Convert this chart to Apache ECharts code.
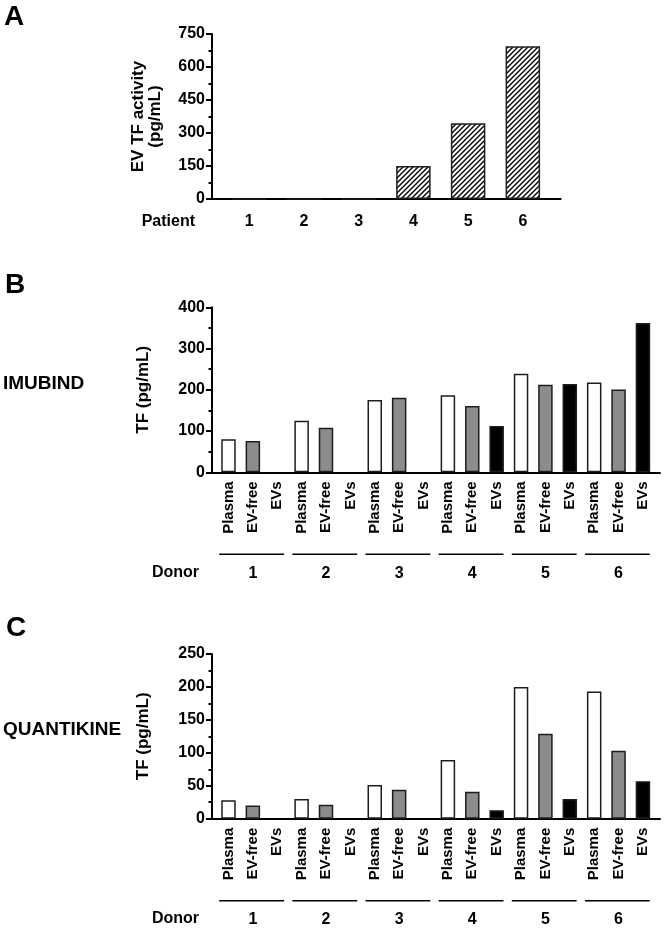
<!DOCTYPE html>
<html><head><meta charset="utf-8">
<script src="https://cdn.jsdelivr.net/npm/echarts/dist/echarts.min.js"></script>
<style>html,body{margin:0;padding:0;background:#fff}#c{width:664px;height:928px}</style>
</head><body><div id="c"></div>
<script>
// ---------- data ----------
const patients = ['1', '2', '3', '4', '5', '6'];
const evTfActivity = [0, 0, 0, 150, 344, 694];
const sampleTypes = ['Plasma', 'EV-free', 'EVs'];
const donors = ['1', '2', '3', '4', '5', '6'];
const imubindPlasma = [80, 125, 175, 187, 239, 218];
const imubindEvFree = [76, 108, 181, 161, 212, 201];
const imubindEvs = [null, null, null, 112, 214, 362];
const quantPlasma = [28, 30, 51, 89, 200, 193];
const quantEvFree = [20, 21, 44, 41, 129, 103];
const quantEvs = [null, null, null, 13, 30, 57];

// ---------- styles ----------
const FONT = '"Liberation Sans", Arial, sans-serif';
const fills = ['#ffffff', '#8c8c8c', '#000000'];
const BORDER = '#1e1e1e';

function hatch() {
  const s = 5, cv = document.createElement('canvas');
  cv.width = s; cv.height = s;
  const g = cv.getContext('2d');
  g.fillStyle = '#fff'; g.fillRect(0, 0, s, s);
  g.strokeStyle = '#000'; g.lineWidth = 1.4;
  g.beginPath();
  g.moveTo(-1, s + 1); g.lineTo(s + 1, -1);
  g.moveTo(-1, 1); g.lineTo(1, -1);
  g.moveTo(s - 1, s + 1); g.lineTo(s + 1, s - 1);
  g.stroke();
  return cv;
}

function groupedData(plasma, evfree, evs) {
  const out = [];
  for (let g = 0; g < donors.length; g++) {
    [plasma[g], evfree[g], evs[g]].forEach((v, k) => {
      if (v == null) return;
      out.push({ value: [g * 3 + k + 1, v], itemStyle: { color: fills[k] } });
    });
  }
  return out;
}

const slotLabels = [];
donors.forEach(() => sampleTypes.forEach(t => slotLabels.push(t)));
const slotPositions = slotLabels.map((_, i) => i + 1);

function yAxisCfg(grid, max, interval, name, gap) {
  return {
    type: 'value', gridIndex: grid, min: 0, max: max, interval: interval,
    name: name, nameLocation: 'middle', nameRotate: 90, nameGap: gap,
    nameTextStyle: { fontFamily: FONT, fontWeight: 'bold', fontSize: 17, color: '#000', lineHeight: 17 },
    axisLine: { show: true, onZero: false, lineStyle: { color: '#000', width: 2 } },
    axisTick: { show: true, inside: false, length: 6, lineStyle: { color: '#000', width: 2 } },
    minorTick: { show: true, splitNumber: 2, length: 3.5, lineStyle: { color: '#000', width: 2 } },
    splitLine: { show: false },
    axisLabel: { fontFamily: FONT, fontWeight: 'bold', fontSize: 16, color: '#000', margin: 7 }
  };
}

function groupDecor(grid) {
  return {
    type: 'custom', xAxisIndex: grid, yAxisIndex: grid, silent: true, clip: false,
    data: donors.map((d, i) => [i * 3 + 2, i]),
    renderItem: function (params, api) {
      const c = api.value(0), idx = api.value(1);
      const p0 = api.coord([c - 1.38, 0]);
      const p1 = api.coord([c + 1.28, 0]);
      const pc = api.coord([c, 0]);
      return {
        type: 'group', children: [
          { type: 'line', shape: { x1: p0[0], y1: p0[1] + 82, x2: p1[0], y2: p1[1] + 82 },
            style: { stroke: '#000', lineWidth: 1.6 } },
          { type: 'text', x: pc[0], y: pc[1] + 101,
            style: { text: donors[idx], font: 'bold 16px ' + FONT, fill: '#000', align: 'center', verticalAlign: 'middle' } }
        ]
      };
    }
  };
}

const chart = echarts.init(document.getElementById('c'), null, { renderer: 'canvas' });

function txt(text, x, y, size, align) {
  return { type: 'text', x: x, y: y, silent: true,
    style: { text: text, font: 'bold ' + size + 'px ' + FONT, fill: '#000', align: align || 'left', verticalAlign: 'middle' } };
}

chart.setOption({
  animation: false,
  backgroundColor: '#fff',
  grid: [
    { left: 212, top: 34, width: 348.6, height: 165 },
    { left: 212, top: 307.3, width: 448, height: 165 },
    { left: 212, top: 654, width: 448, height: 164.7 }
  ],
  xAxis: [
    { type: 'value', gridIndex: 0, min: 0.32, max: 6.69,
      axisLine: { onZero: false, lineStyle: { color: '#000', width: 2 } },
      axisTick: { show: false }, splitLine: { show: false },
      axisLabel: { customValues: patients.map((_, i) => i + 1), formatter: v => patients[Math.round(v) - 1],
        fontFamily: FONT, fontWeight: 'bold', fontSize: 16, color: '#000', margin: 15 } },
    { type: 'value', gridIndex: 1, min: 0.324, max: 18.70,
      axisLine: { onZero: false, lineStyle: { color: '#000', width: 2 } },
      axisTick: { show: false }, splitLine: { show: false },
      axisLabel: { customValues: slotPositions, formatter: v => slotLabels[Math.round(v) - 1], rotate: 90,
        fontFamily: FONT, fontWeight: 'bold', fontSize: 15, color: '#000', margin: 9 } },
    { type: 'value', gridIndex: 2, min: 0.324, max: 18.70,
      axisLine: { onZero: false, lineStyle: { color: '#000', width: 2 } },
      axisTick: { show: false }, splitLine: { show: false },
      axisLabel: { customValues: slotPositions, formatter: v => slotLabels[Math.round(v) - 1], rotate: 90,
        fontFamily: FONT, fontWeight: 'bold', fontSize: 15, color: '#000', margin: 9 } }
  ],
  yAxis: [
    yAxisCfg(0, 750, 150, 'EV TF activity\n(pg/mL)', 48),
    yAxisCfg(1, 400, 100, 'TF (pg/mL)', 60),
    yAxisCfg(2, 250, 50, 'TF (pg/mL)', 60)
  ],
  series: [
    { type: 'bar', xAxisIndex: 0, yAxisIndex: 0, barWidth: 34.5, silent: true,
      data: evTfActivity.map((v, i) => [i + 1, v]),
      itemStyle: { color: { image: hatch(), repeat: 'repeat' }, borderColor: BORDER, borderWidth: 1.5 } },
    { type: 'bar', xAxisIndex: 1, yAxisIndex: 1, barWidth: 14.5, silent: true,
      data: groupedData(imubindPlasma, imubindEvFree, imubindEvs),
      itemStyle: { borderColor: BORDER, borderWidth: 1.5 } },
    { type: 'bar', xAxisIndex: 2, yAxisIndex: 2, barWidth: 14.5, silent: true,
      data: groupedData(quantPlasma, quantEvFree, quantEvs),
      itemStyle: { borderColor: BORDER, borderWidth: 1.5 } },
    groupDecor(1),
    groupDecor(2)
  ],
  graphic: [
    txt('A', 4, 17, 28),
    txt('B', 5, 285, 28),
    txt('C', 6, 628, 28),
    txt('IMUBIND', 3, 384, 19),
    txt('QUANTIKINE', 3, 730, 19),
    txt('Patient', 195, 222, 16, 'right'),
    txt('Donor', 199, 573, 16, 'right'),
    txt('Donor', 199, 919, 16, 'right')
  ]
});
</script>
</body></html>
